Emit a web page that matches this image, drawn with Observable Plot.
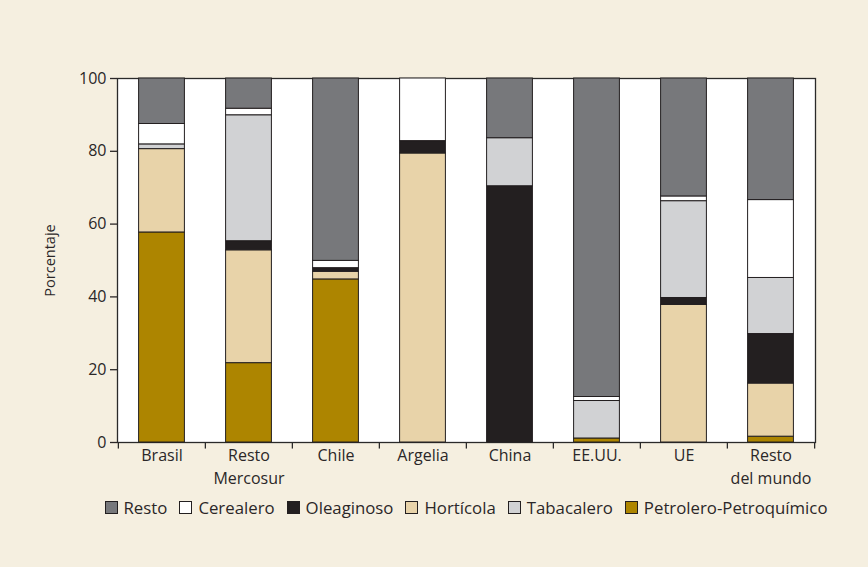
<!DOCTYPE html>
<html>
<head>
<meta charset="utf-8">
<script src="https://cdn.jsdelivr.net/npm/d3@7"></script>
<script src="https://cdn.jsdelivr.net/npm/@observablehq/plot@0.6"></script>
<style>
  html, body { margin: 0; padding: 0; background: #f5efe0; }
  #chart { width: 868px; height: 567px; position: relative; background: #f5efe0; font-family: "Open Sans", sans-serif; color: #2b2728; }
  #legend { position: absolute; left: 117px; width: 698px; top: 496px; display: flex; justify-content: center; align-items: center; font-size: 16.8px; white-space: nowrap; }
  .item { display: flex; align-items: center; margin: 0 6px; }
  .sw { width: 11px; height: 11px; border: 1px solid #231f20; margin-right: 6px; }
</style>
</head>
<body>
<div id="chart"></div>
<script>
const categories = ["Brasil", "Resto\nMercosur", "Chile", "Argelia", "China", "EE.UU.", "UE", "Resto\ndel mundo"];
// stacking order bottom to top
const series = ["Petrolero-Petroquímico", "Hortícola", "Oleaginoso", "Tabacalero", "Cerealero", "Resto"];
const legendOrder = ["Resto", "Cerealero", "Oleaginoso", "Hortícola", "Tabacalero", "Petrolero-Petroquímico"];
const colors = ["#ad8500", "#e8d3a9", "#231f20", "#d1d2d4", "#ffffff", "#77787b"];

const petrolero  = [57.7, 21.8, 44.8, 0,    0,    1.1,  0,    1.6];
const horticola  = [22.9, 31.0, 2.1,  79.4, 0,    0,    37.8, 14.6];
const oleaginoso = [0,    2.5,  1.0,  3.4,  70.4, 0,    1.9,  13.6];
const tabacalero = [1.3,  34.6, 0,    0,    13.2, 10.3, 26.6, 15.4];
const cerealero  = [5.6,  1.8,  2.0,  17.2, 0,    1.1,  1.3,  21.4];
const resto      = [12.5, 8.3,  50.1, 0,    16.4, 87.5, 32.4, 33.4];

const valuesBySeries = [petrolero, horticola, oleaginoso, tabacalero, cerealero, resto];
const data = [];
categories.forEach((c, i) => {
  series.forEach((s, j) => {
    const v = valuesBySeries[j][i];
    if (v > 0) data.push({category: c, sector: s, value: v});
  });
});

const W = 868, H = 500;
const mL = 117, mR = 53, mT = 78, mB = 58;
const band = (W - mL - mR) / categories.length;

const plot = Plot.plot({
  width: W, height: H,
  marginLeft: mL, marginRight: mR, marginTop: mT, marginBottom: mB,
  style: {background: "transparent", fontFamily: "'Open Sans', sans-serif", fontSize: "16px", color: "#2b2728"},
  x: {domain: categories, padding: 0},
  y: {domain: [0, 100]},
  color: {domain: series, range: colors},
  marks: [
    Plot.frame({fill: "white", stroke: "#2a2a2a", strokeWidth: 1.3}),
    Plot.barY(data, Plot.stackY({
      x: "category", y: "value", fill: "sector", z: "sector", order: series,
      stroke: "#231f20", strokeWidth: 1, insetLeft: 20.6, insetRight: 20.6
    })),
    Plot.ruleX(categories, {x: d => d, y1: 0, y2: -1.8, dx: -band / 2, stroke: "#2a2a2a", strokeWidth: 1.3}),
    Plot.ruleX([categories[categories.length - 1]], {x: d => d, y1: 0, y2: -1.8, dx: band / 2, stroke: "#2a2a2a", strokeWidth: 1.3}),
    Plot.axisX({tickSize: 0, tickPadding: 3, label: null, lineHeight: 1.4, fontSize: 16}),
    Plot.axisY({ticks: [0, 20, 40, 60, 80, 100], tickSize: 7, tickPadding: 4, label: null, fontSize: 16, strokeWidth: 1.3}),
    Plot.text(["Porcentaje"], {frameAnchor: "left", textAnchor: "middle", dx: -67, rotate: -90, fontSize: 14.5, text: d => d})
  ]
});
document.getElementById("chart").appendChild(plot);

const legend = document.createElement("div");
legend.id = "legend";
legendOrder.forEach(name => {
  const item = document.createElement("div");
  item.className = "item";
  const sw = document.createElement("div");
  sw.className = "sw";
  sw.style.background = colors[series.indexOf(name)];
  const t = document.createElement("span");
  t.textContent = name;
  item.appendChild(sw); item.appendChild(t);
  legend.appendChild(item);
});
document.getElementById("chart").appendChild(legend);
</script>
</body>
</html>
